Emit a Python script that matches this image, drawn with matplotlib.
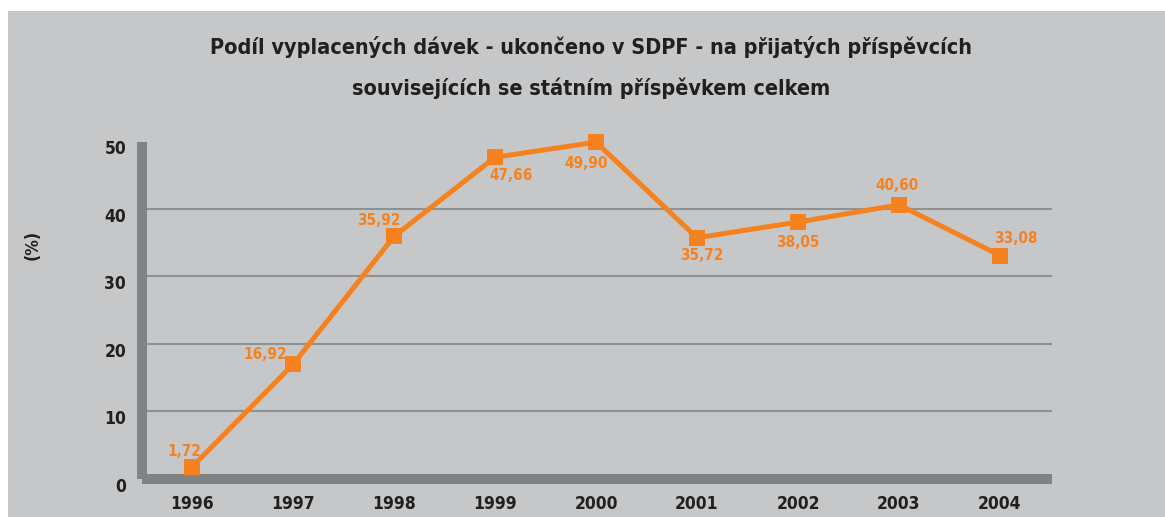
import matplotlib
matplotlib.use('Agg')
import matplotlib.pyplot as plt
from matplotlib.patches import Rectangle
from matplotlib.transforms import ScaledTranslation
from matplotlib import font_manager

years = ['1996', '1997', '1998', '1999', '2000', '2001', '2002', '2003', '2004']
share = [1.72, 16.92, 35.92, 47.66, 49.90, 35.72, 38.05, 40.60, 33.08]
# where each value label sits relative to its marker, in pixels
label_offsets = [(-8, 15), (-28, 10), (-15, 16), (16, -18), (-10, -21),
                 (5, -18), (0, -20), (-2, 19), (16, 17)]
yticks = [0, 10, 20, 30, 40, 50]

W, H = 1165, 517
BG = '#c6c7c9'
BAR = '#818284'
GRID = '#909193'
ORANGE = '#f5821f'
DARK = '#231f20'

names = {f.name for f in font_manager.fontManager.ttflist}
fam = ['Liberation Sans Narrow', 'DejaVu Sans'] if 'Liberation Sans Narrow' in names else ['DejaVu Sans']
plt.rcParams['font.family'] = fam
plt.rcParams['font.stretch'] = 'condensed'

fig = plt.figure(figsize=(W / 100, H / 100), dpi=100)
fig.patch.set_facecolor('white')

def px(x, y, w, h):
    return (x / W, 1 - (y + h) / H, w / W, h / H)

# grey panel with white strips at top and left
bx, by, bw, bh = px(8, 11, W - 8, H - 11)
fig.patches.append(Rectangle((bx, by), bw, bh, transform=fig.transFigure,
                             facecolor=BG, edgecolor='none', zorder=-5))

ax = fig.add_axes(px(147, 141.5, 905, 337))
ax.set_facecolor('none')
ax.set_xlim(-0.446, 8.515)
ax.set_ylim(0, 50)
for s in ax.spines.values():
    s.set_visible(False)

for v in yticks[1:-1]:
    ax.axhline(v, color=GRID, lw=1.5, zorder=1)

# thick axis bars
for (x, y, w, h) in [(137, 142, 10, 337), (142, 474, 910, 10)]:
    rx, ry, rw, rh = px(x, y, w, h)
    ax.add_patch(Rectangle((rx, ry), rw, rh, transform=fig.transFigure,
                           facecolor=BAR, edgecolor='none', zorder=2,
                           clip_on=False))

xs = list(range(len(years)))
ax.plot(xs, share, color=ORANGE, lw=3.6, marker='s', markersize=11,
        markeredgewidth=0, zorder=5, clip_on=False)

for x, v, (dx, dy) in zip(xs, share, label_offsets):
    ax.annotate(f'{v:.2f}'.replace('.', ','), (x, v), xytext=(dx, dy),
                textcoords='offset pixels', ha='center', va='center',
                color=ORANGE, fontsize=11, fontweight='bold', zorder=6)

ax.set_yticks(yticks)
ax.set_yticklabels([str(t) for t in yticks])
ax.set_xticks(xs)
ax.set_xticklabels(years)
ax.tick_params(axis='both', length=0, labelsize=12.5, labelcolor=DARK)
ax.tick_params(axis='y', pad=15)
ax.tick_params(axis='x', pad=12)
shift = ScaledTranslation(0, -6 / 100, fig.dpi_scale_trans)
for lab in ax.get_yticklabels():
    lab.set_transform(lab.get_transform() + shift)
for lab in ax.get_xticklabels() + ax.get_yticklabels():
    lab.set_fontweight('bold')

fig.text(33 / W, 1 - 245 / H, '(%)', rotation=90, ha='center', va='center',
         fontsize=12.5, fontweight='bold', color=DARK)

fig.text(591 / W, 1 - 47 / H,
         'Podíl vyplacených dávek - ukončeno v SDPF - na přijatých příspěvcích',
         ha='center', va='center', fontsize=15.5, fontweight='bold', color=DARK)
fig.text(591 / W, 1 - 88 / H,
         'souvisejících se státním příspěvkem celkem',
         ha='center', va='center', fontsize=15.5, fontweight='bold', color=DARK)

fig.savefig('out.png', dpi=100, facecolor=fig.get_facecolor())
